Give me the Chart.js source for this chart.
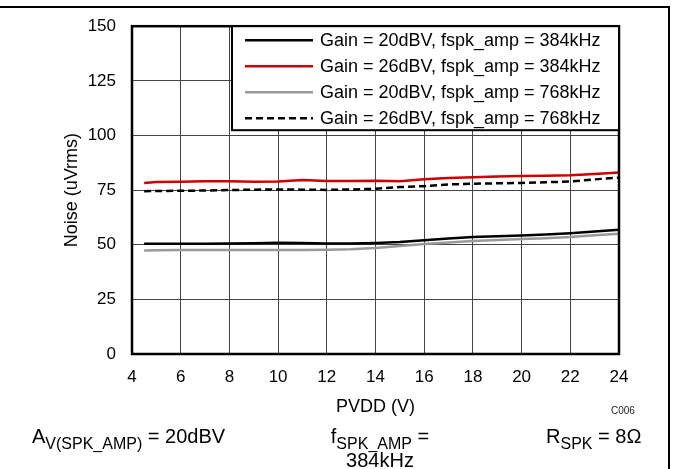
<!DOCTYPE html>
<html>
<head>
<meta charset="utf-8">
<title>Noise vs PVDD</title>
<script src="https://cdn.jsdelivr.net/npm/chart.js@4.4.1/dist/chart.umd.min.js"></script>
<style>
  html, body { margin: 0; padding: 0; background: #fff; }
  body { width: 673px; height: 469px; position: relative; overflow: hidden;
         font-family: "Liberation Sans", Arial, sans-serif; color: #000; }
  #chart { position: absolute; left: 0; top: 0; }
  .frame-top { position: absolute; left: 0; top: 6px; width: 670px; border-top: 2px solid #000; }
  .frame-right { position: absolute; left: 668px; top: 6px; height: 463px; border-left: 2px solid #000; }
  .note { position: absolute; font-size: 20px; line-height: 22px; white-space: nowrap; }
  .note .sub { font-size: 16px; position: relative; top: 6px; }
  .code { position: absolute; left: 611px; top: 405px; font-size: 10px; color: #222; }
</style>
</head>
<body>
<canvas id="chart" width="673" height="469"></canvas>
<div class="frame-top"></div>
<div class="frame-right"></div>
<div class="code">C006</div>
<div class="note" style="left:32px; top:425px;">A<span class="sub">V(SPK_AMP)</span> = 20dBV</div>
<div class="note" style="left:280px; top:425px; width:200px; text-align:center;">f<span class="sub">SPK_AMP</span> =<br>384kHz</div>
<div class="note" style="left:546px; top:425px;">R<span class="sub">SPK</span> = 8Ω</div>

<script>
// Noise vs PVDD - four gain / switching frequency combinations

const pvdd = [4.5, 5, 6, 7, 8, 9, 10, 11, 12, 13, 14, 15, 16, 17, 18, 19, 20, 21, 22, 23, 24];

const gain20_384 = [50.4, 50.5, 50.4, 50.5, 50.6, 50.7, 50.9, 50.8, 50.6, 50.6, 50.8, 51.2, 52.1, 52.9, 53.5, 53.9, 54.2, 54.7, 55.3, 56.1, 56.9];
const gain26_384 = [78.3, 78.7, 78.8, 79.1, 79.0, 78.8, 78.9, 79.6, 79.2, 79.2, 79.3, 79.1, 80.0, 80.5, 80.9, 81.2, 81.5, 81.6, 81.8, 82.4, 83.1];
const gain20_768 = [47.4, 47.5, 47.6, 47.6, 47.6, 47.6, 47.6, 47.6, 47.7, 47.9, 48.5, 49.4, 50.3, 51.0, 51.7, 52.2, 52.6, 53.0, 53.5, 54.3, 55.0];
const gain26_768 = [74.5, 74.6, 74.7, 74.8, 75.0, 75.2, 75.3, 75.2, 75.1, 75.3, 75.6, 76.4, 76.8, 77.6, 77.9, 78.1, 78.3, 78.6, 78.9, 79.9, 80.7];

const seriesLabels = [
    'Gain = 20dBV, fspk_amp = 384kHz',
    'Gain = 26dBV, fspk_amp = 384kHz',
    'Gain = 20dBV, fspk_amp = 768kHz',
    'Gain = 26dBV, fspk_amp = 768kHz'
];

const xRange = [4, 24];
const xStep = 2;
const yRange = [0, 150];
const yStep = 25;

const FONT = '"Liberation Sans", Arial, sans-serif';

function toPoints(values) {
    return pvdd.map((v, i) => ({ x: v, y: values[i] }));
}

// Plot border + legend box drawn on top of the grid
const boxPlugin = {
    id: 'boxPlugin',
    afterDraw(chart) {
        const { ctx, chartArea: a } = chart;
        ctx.save();

        // plot frame
        ctx.strokeStyle = '#000';
        ctx.lineWidth = 2.5;
        ctx.strokeRect(a.left, a.top, a.right - a.left, a.bottom - a.top);

        // legend
        const bx = a.left + 100, by = a.top, bw = a.right - bx, bh = 104;
        ctx.fillStyle = '#fff';
        ctx.fillRect(bx, by, bw, bh);
        ctx.lineWidth = 2;
        ctx.strokeRect(bx, by, bw, bh);

        ctx.font = '18px ' + FONT;
        ctx.textBaseline = 'middle';
        ctx.textAlign = 'left';
        chart.data.datasets.forEach((ds, i) => {
            const y = by + 14 + i * 26;
            ctx.beginPath();
            ctx.strokeStyle = ds.borderColor;
            ctx.lineWidth = ds.borderWidth;
            ctx.setLineDash(ds.borderDash || []);
            ctx.moveTo(bx + 13, y);
            ctx.lineTo(bx + 81, y);
            ctx.stroke();
            ctx.setLineDash([]);
            ctx.fillStyle = '#000';
            ctx.fillText(ds.label, bx + 88, y + 1);
        });
        ctx.restore();
    }
};

const ctx = document.getElementById('chart').getContext('2d');
new Chart(ctx, {
    type: 'line',
    data: {
        datasets: [
            { label: seriesLabels[0], data: toPoints(gain20_384), borderColor: '#000000', borderWidth: 2.5 },
            { label: seriesLabels[1], data: toPoints(gain26_384), borderColor: '#cc0000', borderWidth: 2.5 },
            { label: seriesLabels[2], data: toPoints(gain20_768), borderColor: '#999999', borderWidth: 2.5 },
            { label: seriesLabels[3], data: toPoints(gain26_768), borderColor: '#000000', borderWidth: 2.5, borderDash: [7, 4] }
        ]
    },
    options: {
        responsive: false,
        animation: false,
        devicePixelRatio: 1,
        layout: { padding: { left: 55, top: 23, right: 54, bottom: 50 } },
        elements: {
            point: { radius: 0 },
            line: { tension: 0, fill: false }
        },
        plugins: {
            legend: { display: false },
            tooltip: { enabled: false }
        },
        scales: {
            x: {
                type: 'linear',
                min: xRange[0],
                max: xRange[1],
                ticks: { stepSize: xStep, color: '#000', padding: 13, font: { family: FONT, size: 17 } },
                grid: { color: '#444', lineWidth: 1, drawTicks: false },
                border: { display: false },
                title: { display: true, text: 'PVDD (V)', color: '#000', padding: { top: 0, bottom: 1 }, font: { family: FONT, size: 18 } },
                afterFit(scale) { scale.height = 65; }
            },
            y: {
                min: yRange[0],
                max: yRange[1],
                ticks: { stepSize: yStep, color: '#000', padding: 16, font: { family: FONT, size: 17 } },
                grid: { color: '#444', lineWidth: 1, drawTicks: false },
                border: { display: false },
                title: { display: true, text: 'Noise (uVrms)', color: '#000', padding: { top: 6, bottom: 0 }, font: { family: FONT, size: 18 } },
                afterFit(scale) { scale.width = 77; }
            }
        }
    },
    plugins: [boxPlugin]
});
</script>
</body>
</html>
